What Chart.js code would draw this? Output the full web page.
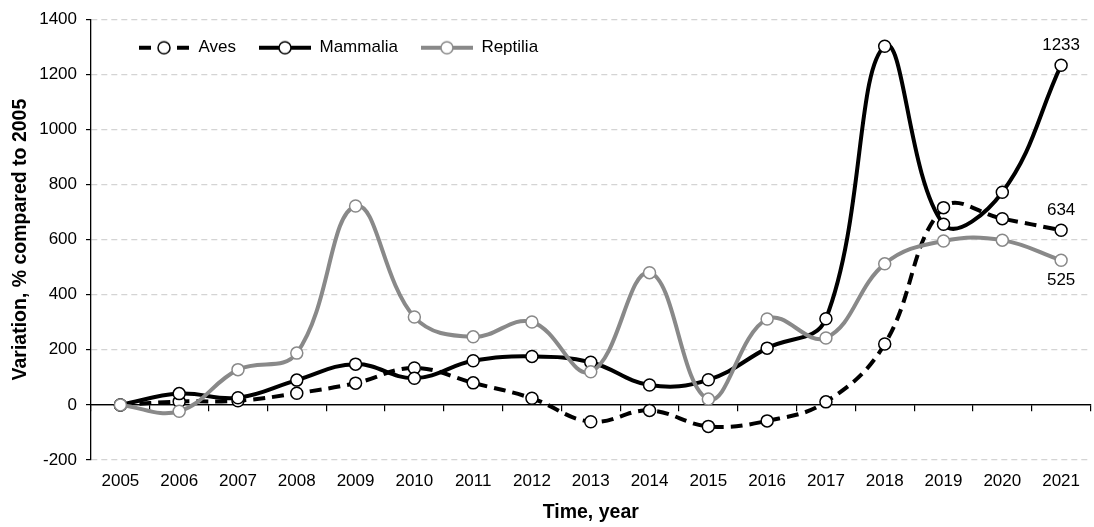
<!DOCTYPE html>
<html><head><meta charset="utf-8">
<script src="https://cdn.jsdelivr.net/npm/chart.js@4.4.1/dist/chart.umd.min.js"></script>
<style>html,body{margin:0;padding:0;overflow:hidden;background:#fff}</style>
</head><body>
<canvas id="c" width="1098" height="527"></canvas>
<script>
const years = ['2005','2006','2007','2008','2009','2010','2011','2012','2013','2014','2015','2016','2017','2018','2019','2020','2021'];
const aves     = [0, 12, 15, 42, 79, 134, 80, 24, -61, -20, -78, -58, 11, 221, 716, 676, 634];
const mammalia = [0, 41, 26, 90, 148, 97, 160, 176, 155, 72, 91, 206, 313, 1302, 656, 772, 1233];
const reptilia = [0, -23, 128, 188, 722, 319, 247, 301, 120, 480, 21, 312, 243, 512, 595, 598, 525];
const yMin = -200, yMax = 1400, yStep = 200;
const seriesNames = ['Aves', 'Mammalia', 'Reptilia'];
const endLabels = [
  {series: 'Mammalia', index: 16, side: 'above'},
  {series: 'Aves', index: 16, side: 'above'},
  {series: 'Reptilia', index: 16, side: 'below'}
];

const FONT = '"Liberation Sans", Arial, sans-serif';
const BLACK = '#000000';
const GRAY = '#898989';

function legendSymbol(color, dashed) {
  const c = document.createElement('canvas');
  c.width = 52; c.height = 16;
  const g = c.getContext('2d');
  g.strokeStyle = color; g.lineWidth = 4; g.lineCap = 'butt';
  const cy = 8, cx = 26;
  g.beginPath();
  if (dashed) {
    g.moveTo(1, cy); g.lineTo(13, cy);
    g.moveTo(39, cy); g.lineTo(51, cy);
  } else {
    g.moveTo(0, cy); g.lineTo(52, cy);
  }
  g.stroke();
  g.beginPath();
  g.arc(cx, cy, 6, 0, Math.PI * 2);
  g.fillStyle = '#fff'; g.fill();
  g.lineWidth = 1.5; g.stroke();
  return c;
}

const symbols = [legendSymbol(BLACK, true), legendSymbol(BLACK, false), legendSymbol(GRAY, false)];

const endLabelPlugin = {
  id: 'endLabels',
  afterDatasetsDraw(chart) {
    const ctx = chart.ctx;
    ctx.save();
    ctx.font = '17px ' + FONT;
    ctx.fillStyle = '#000';
    ctx.textAlign = 'center';
    ctx.textBaseline = 'middle';
    endLabels.forEach(l => {
      const ds = chart.data.datasets.find(d => d.label === l.series);
      const v = ds.data[l.index];
      const x = chart.scales.x.getPixelForValue(l.index);
      const y = chart.scales.y.getPixelForValue(v) + (l.side === 'above' ? -20 : 20);
      ctx.fillText(String(v), x, y);
    });
    ctx.restore();
  }
};

const legendShift = {
  id: 'legendShift',
  afterLayout(chart) {
    const lg = chart.legend;
    if (!lg) return;
    lg.left = chart.chartArea.left + 24;
    lg.right = chart.chartArea.right;
    lg.top = chart.chartArea.top - 3;
    lg.bottom = lg.top + 70;
    lg.width = lg.right - lg.left;
    lg.height = 70;
  }
};

const common = {
  fill: false,
  tension: 0.4,
  borderWidth: 4,
  pointRadius: 6,
  pointBorderWidth: 1.5,
  pointBackgroundColor: '#ffffff',
  borderCapStyle: 'butt'
};

new Chart(document.getElementById('c'), {
  type: 'line',
  data: {
    labels: years,
    datasets: [
      Object.assign({}, common, {label: seriesNames[0], data: aves, borderColor: BLACK, pointBorderColor: BLACK, borderDash: [12, 7], order: 3}),
      Object.assign({}, common, {label: seriesNames[1], data: mammalia, borderColor: BLACK, pointBorderColor: BLACK, order: 2}),
      Object.assign({}, common, {label: seriesNames[2], data: reptilia, borderColor: GRAY, pointBorderColor: GRAY, order: 1})
    ]
  },
  options: {
    responsive: false,
    animation: false,
    events: [],
    layout: {padding: {top: 0, left: 0, right: 0, bottom: 0}},
    plugins: {
      tooltip: {enabled: false},
      legend: {
        position: 'top',
        align: 'start',
        maxHeight: 17,
        labels: {
          usePointStyle: true,
          pointStyleWidth: 52,
          padding: 23,
          color: '#000',
          font: {family: FONT, size: 17},
          generateLabels(chart) {
            return chart.data.datasets.map((d, i) => ({
              text: d.label, pointStyle: symbols[i], fillStyle: '#fff', strokeStyle: d.borderColor,
              lineWidth: 0, hidden: false, datasetIndex: i, fontColor: '#000'
            }));
          }
        }
      }
    },
    scales: {
      x: {
        type: 'category',
        offset: true,
        grid: {display: false, drawTicks: false},
        border: {display: false},
        ticks: {color: '#000', font: {family: FONT, size: 17}, padding: 11, maxRotation: 0, autoSkip: false},
        title: {display: true, text: 'Time, year', color: '#000', font: {family: FONT, size: 19.5, weight: 'bold'}, padding: {top: 0, bottom: 3}},
        afterFit(s) { s.height = 67; }
      },
      x2: {
        type: 'category',
        axis: 'x',
        position: {y: 0},
        offset: true,
        grid: {display: true, drawOnChartArea: false, drawTicks: true, tickLength: 6, offset: true, color: '#000', lineWidth: 1.2},
        border: {display: true, color: '#000', width: 1.3},
        ticks: {display: false}
      },
      y: {
        min: yMin, max: yMax,
        ticks: {stepSize: yStep, color: '#000', font: {family: FONT, size: 17}, padding: 9, callback: v => String(v)},
        grid: {
          color: ctx => (ctx.tick && ctx.tick.value === 0) ? '#000' : '#d4d4d4',
          lineWidth: 1.2,
          tickLength: 5,
          tickColor: '#000',
          tickBorderDash: []
        },
        border: {display: true, color: '#000', width: 1.3, dash: ctx => (ctx.tick && ctx.tick.value === 0) ? [] : [6, 4]},
        title: {display: true, text: 'Variation, % compared to 2005', color: '#000', font: {family: FONT, size: 19.5, weight: 'bold'}, padding: {top: 9, bottom: 0}},
        afterFit(s) { s.width = 91; }
      }
    }
  },
  plugins: [endLabelPlugin, legendShift]
});
</script>
</body></html>
